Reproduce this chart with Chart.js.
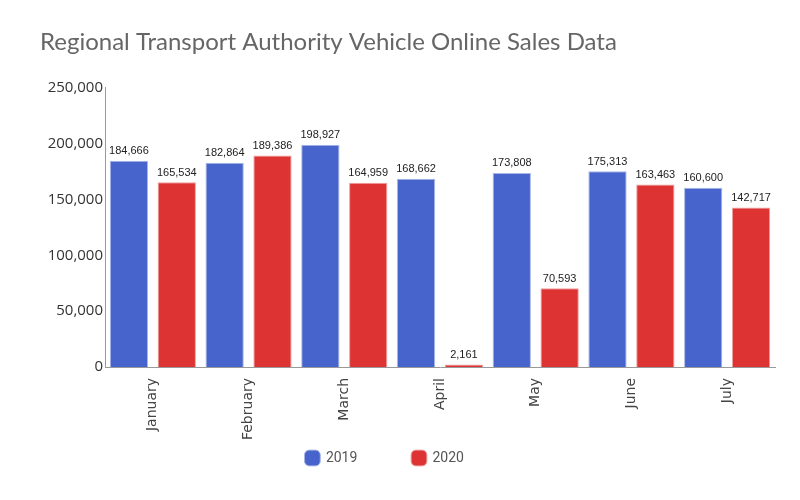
<!DOCTYPE html>
<html>
<head>
    <title>Vehicle Online Sales</title>
    <script src="https://cdn.jsdelivr.net/npm/chart.js"></script>
    <style>
        body { margin: 0; background: #fff; }
    </style>
</head>
<body>
    <canvas id="salesChart" width="800" height="500"></canvas>

    <script>
        const months = ['January', 'February', 'March', 'April', 'May', 'June', 'July'];
        const sales2019 = [184666, 182864, 198927, 168662, 173808, 175313, 160600];
        const sales2020 = [165534, 189386, 164959, 2161, 70593, 163463, 142717];
        const yTicks = [0, 50000, 100000, 150000, 200000, 250000];

        // little plugin that writes the value over each bar
        const valueLabels = {
            id: 'valueLabels',
            afterDatasetsDraw(chart) {
                const ctx = chart.ctx;
                ctx.save();
                ctx.font = '11px "Liberation Sans", Arial, sans-serif';
                ctx.fillStyle = '#222';
                ctx.textAlign = 'center';
                ctx.textBaseline = 'bottom';
                chart.data.datasets.forEach((ds, i) => {
                    chart.getDatasetMeta(i).data.forEach((bar, j) => {
                        ctx.fillText(ds.data[j].toLocaleString('en-US'), bar.x, bar.y - 4);
                    });
                });
                ctx.restore();
            }
        };

        function drawChart() {
            new Chart(document.getElementById('salesChart'), {
                type: 'bar',
                data: {
                    labels: months,
                    datasets: [{
                        label: '2019',
                        data: sales2019,
                        backgroundColor: '#4664cc',
                        borderColor: '#a9b6e6',
                        borderWidth: 1
                    }, {
                        label: '2020',
                        data: sales2020,
                        backgroundColor: '#dd3333',
                        borderColor: '#eea0a0',
                        borderWidth: 1
                    }]
                },
                plugins: [valueLabels],
                options: {
                    responsive: false,
                    animation: false,
                    devicePixelRatio: 1,
                    layout: { padding: { left: 40, right: 25, top: 28, bottom: 25 } },
                    datasets: { bar: { categoryPercentage: 1, barPercentage: 0.8 } },
                    plugins: {
                        title: {
                            display: true,
                            text: 'Regional Transport Authority Vehicle Online Sales Data',
                            align: 'start',
                            color: '#666',
                            font: { family: 'Lato', size: 24, weight: 'normal' },
                            padding: { top: 0, bottom: 31 }
                        },
                        legend: {
                            position: 'bottom',
                            labels: {
                                usePointStyle: true,
                                pointStyle: 'rectRounded',
                                boxWidth: 13,
                                boxHeight: 13,
                                padding: 10,
                                color: '#555',
                                font: { family: 'Roboto', size: 14 },
                                // trailing spaces give the wide gap between the two items
                                generateLabels(chart) {
                                    const items = Chart.defaults.plugins.legend.labels.generateLabels(chart);
                                    items.forEach(it => { it.text = it.text + '             '; });
                                    return items;
                                }
                            }
                        },
                        tooltip: { enabled: false }
                    },
                    scales: {
                        x: {
                            afterFit(axis) { axis.height = 74; },
                            grid: { display: false },
                            border: { color: '#999', width: 1 },
                            ticks: {
                                minRotation: 90,
                                maxRotation: 90,
                                color: '#444',
                                font: { family: 'DejaVu Sans', size: 14 }
                            }
                        },
                        y: {
                            min: 0,
                            max: 250000,
                            afterFit(axis) { axis.width = 65; },
                            afterBuildTicks(axis) { axis.ticks = yTicks.map(v => ({ value: v })); },
                            grid: { display: false, drawTicks: false },
                            border: { color: '#999', width: 1 },
                            ticks: {
                                color: '#333',
                                padding: 2,
                                font: { family: 'Open Sans', size: 15 },
                                callback: v => v.toLocaleString('en-US')
                            }
                        }
                    }
                }
            });
        }

        Promise.all([
            document.fonts.load('24px Lato'),
            document.fonts.load('14px Roboto'),
            document.fonts.load('15px "Open Sans"'),
            document.fonts.load('14px "DejaVu Sans"')
        ]).then(drawChart, drawChart);
    </script>
</body>
</html>
